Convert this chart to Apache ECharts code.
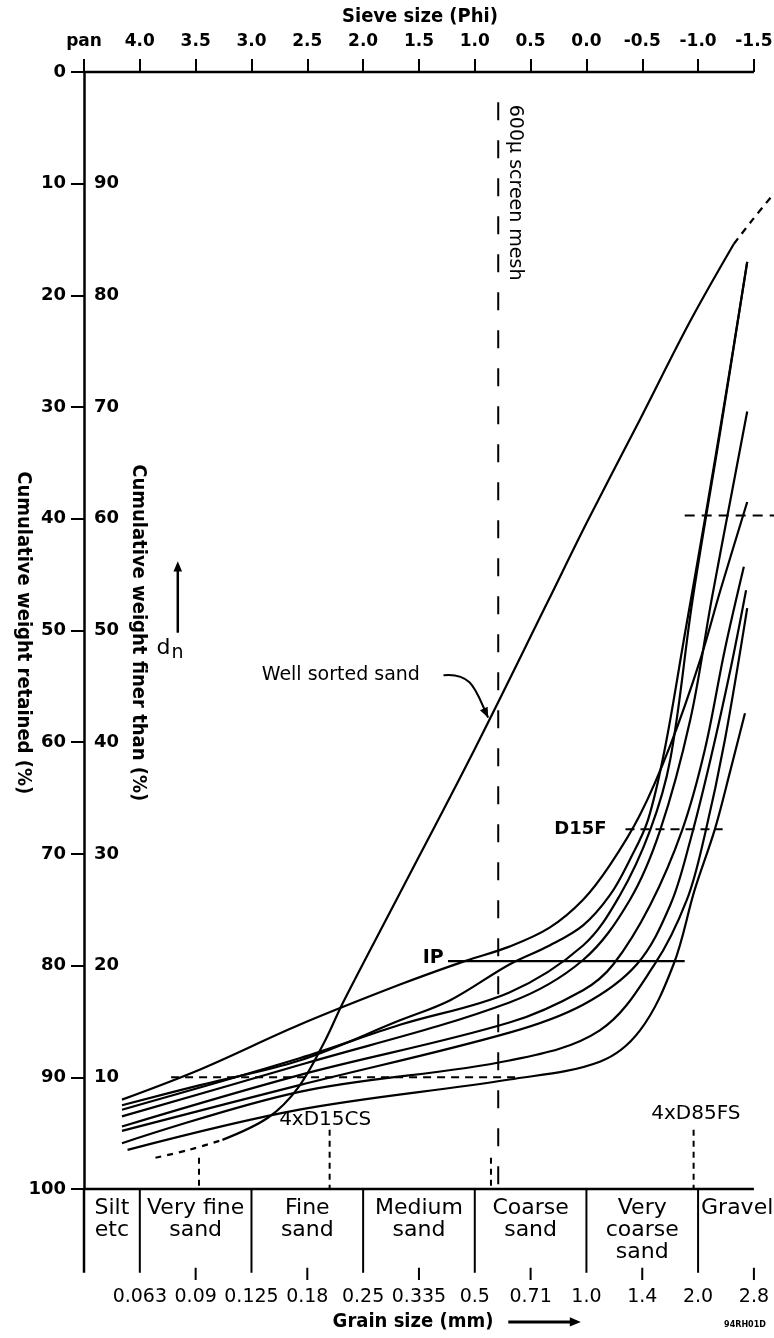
<!DOCTYPE html>
<html>
<head>
<meta charset="utf-8">
<script src="https://cdn.jsdelivr.net/npm/echarts@6/dist/echarts.min.js"></script>
<style>
html, body { margin: 0; padding: 0; background: #fff; }
#chart { width: 774px; height: 1338px; }
</style>
</head>
<body>
<div id="chart"></div>
<script>
// sieve scale (phi) and its labels
var sievePhi = [4.5, 4.0, 3.5, 3.0, 2.5, 2.0, 1.5, 1.0, 0.5, 0.0, -0.5, -1.0, -1.5];
var sieveLabels = ['pan', '4.0', '3.5', '3.0', '2.5', '2.0', '1.5', '1.0', '0.5', '0.0', '-0.5', '-1.0', '-1.5'];
var grainLabels = ['', '0.063', '0.09', '0.125', '0.18', '0.25', '0.335', '0.5', '0.71', '1.0', '1.4', '2.0', '2.8'];

// size classes
var classNames = ['Silt\netc', 'Very fine\nsand', 'Fine\nsand', 'Medium\nsand', 'Coarse\nsand', 'Very\ncoarse\nsand', 'Gravel'];
var classCenters = [4.25, 3.5, 2.5, 1.5, 0.5, -0.5, -1.35];
var classBounds = [4.0, 3.0, 2.0, 1.0, 0.0, -1.0];
var midTicks = [3.5, 2.5, 1.5, 0.5, -0.5, -1.5];

// grading curves, [phi, cumulative % retained]
var wellSorted = [[3.26, 95.6], [2.85, 93.6], [2.58, 90.9], [2.34, 86.7], [2.18, 83.3], [1.67, 73.5], [1.00, 60.6], [0.35, 47.5], [0.00, 40.4], [-0.48, 31.1], [-0.93, 22.3], [-1.32, 15.4]];
var wellSortedFine = [[3.86, 97.2], [3.56, 96.5], [3.26, 95.6]];
var wellSortedCoarse = [[-1.32, 15.4], [-1.49, 13.2], [-1.67, 11.0]];

var filterA = [[4.16, 92.0], [3.46, 89.3], [2.57, 85.3], [1.67, 81.7], [1.09, 79.6], [0.69, 78.3], [0.33, 76.6], [0.03, 74.1], [-0.21, 71.0], [-0.48, 66.5], [-0.75, 60.3], [-1.02, 52.6], [-1.20, 46.4], [-1.44, 38.5]];
var filterB = [[4.16, 92.5], [3.46, 90.7], [2.57, 88.5], [1.67, 84.9], [1.22, 83.1], [0.69, 79.9], [0.33, 78.2], [0.03, 76.4], [-0.21, 73.7], [-0.39, 70.5], [-0.55, 67.0], [-0.70, 60.7], [-0.88, 50.4], [-1.06, 40.1], [-1.24, 29.4], [-1.44, 17.0]];
var filterC = [[4.16, 92.9], [2.57, 88.3], [1.67, 85.3], [0.69, 82.4], [0.03, 78.2], [-0.30, 73.7], [-0.57, 67.9], [-0.75, 61.6], [-0.95, 47.3], [-1.20, 32.1], [-1.44, 17.0]];
var filterD = [[4.16, 93.5], [2.57, 88.9], [0.69, 83.3], [0.03, 79.5], [-0.39, 74.1], [-0.66, 67.9], [-0.93, 58.0], [-1.12, 47.3], [-1.29, 38.3], [-1.44, 30.4]];
var filterE = [[4.16, 94.4], [2.57, 89.8], [0.69, 85.1], [0.03, 82.2], [-0.24, 79.9], [-0.57, 74.6], [-0.86, 67.8], [-1.06, 60.7], [-1.24, 51.7], [-1.41, 44.3]];
var filterF = [[4.16, 94.8], [2.57, 90.7], [0.69, 86.0], [0.03, 83.5], [-0.45, 79.9], [-0.75, 74.6], [-0.93, 68.8], [-1.11, 61.6], [-1.29, 53.5], [-1.43, 46.4]];
var filterG = [[4.16, 95.9], [2.57, 91.3], [0.69, 88.5], [-0.12, 85.8], [-0.61, 79.9], [-0.90, 74.1], [-1.06, 68.3], [-1.24, 59.8], [-1.44, 48.0]];
var filterH = [[4.11, 96.5], [2.57, 92.9], [0.69, 90.2], [-0.12, 88.6], [-0.48, 85.8], [-0.78, 79.9], [-0.97, 73.2], [-1.15, 67.8], [-1.29, 62.5], [-1.42, 57.4]];

// reference levels and sizes
var screenPhi = 0.79;
var tenLine = [3.72, 0.60, 90];
var ipLine = [1.24, -0.88, 79.6];
var d15fLine = [-0.35, -1.22, 67.8];
var d85Line = [-0.88, -1.70, 39.7];
var d15csPhi = 2.30;
var d85fsPhi = -0.96;
var shortMarks = [3.47, 0.855];

var condensed = '"Liberation Sans Narrow", "DejaVu Sans Condensed", sans-serif';
var plain = '"DejaVu Sans", sans-serif';

function phiLabel(list) {
  return function (v) {
    for (var i = 0; i < sievePhi.length; i++) {
      if (Math.abs(sievePhi[i] - v) < 1e-6) return list[i];
    }
    return '';
  };
}

function seg(pts, width, dash) {
  return {
    type: 'line', data: pts, symbol: 'none', clip: false, silent: true,
    lineStyle: { color: '#000', width: width, type: dash || 'solid' }
  };
}

function curve(pts, dash) {
  return {
    type: 'line', data: pts, smooth: 0.35, symbol: 'none', clip: false, silent: true,
    lineStyle: { color: '#000', width: 2.2, type: dash || 'solid' }
  };
}

function note(pt, text, label) {
  var l = { show: true, formatter: text, color: '#000', opacity: 1, fontFamily: plain, fontSize: 18, position: 'inside' };
  for (var k in label) l[k] = label[k];
  return { type: 'scatter', data: [pt], symbolSize: 0, clip: false, silent: true, itemStyle: { opacity: 1 }, label: l };
}

var series = [];
[filterA, filterB, filterC, filterD, filterE, filterF, filterG, filterH].forEach(function (c) {
  series.push(curve(c));
});
series.push(curve(wellSorted));
series.push(curve(wellSortedFine, [6, 6]));
series.push(curve(wellSortedCoarse, [7, 6]));

series.push(seg([[screenPhi, 2.7], [screenPhi, 100]], 2, [18, 20]));
series.push(seg([[tenLine[0], tenLine[2]], [tenLine[1], tenLine[2]]], 2, [8, 6]));
series.push(seg([[ipLine[0], ipLine[2]], [ipLine[1], ipLine[2]]], 2.2));
series.push(seg([[d15fLine[0], d15fLine[2]], [d15fLine[1], d15fLine[2]]], 2, [9, 6]));
series.push(seg([[d85Line[0], d85Line[2]], [d85Line[1], d85Line[2]]], 2, [10, 7]));
series.push(seg([[d15csPhi, 94.7], [d15csPhi, 100]], 2, [6, 5]));
series.push(seg([[d85fsPhi, 94.7], [d85fsPhi, 100]], 2, [6, 5]));
shortMarks.forEach(function (p) { series.push(seg([[p, 97.2], [p, 100]], 2, [6, 5])); });

// frame: sieve line on top, base line, class table under the plot
series.push(seg([[4.5, 0], [-1.5, 0]], 2.5));
series.push(seg([[4.5, 100], [-1.5, 100]], 2.5));
series.push(seg([[4.5, 100], [4.5, 107.5]], 2.5));
classBounds.forEach(function (b) { series.push(seg([[b, 100], [b, 107.5]], 2)); });
midTicks.forEach(function (m) { series.push(seg([[m, 107.05], [m, 108.15]], 2)); });
classNames.forEach(function (n, i) {
  series.push(note([classCenters[i], 100.75], n, { position: 'bottom', distance: 0, fontSize: 22, lineHeight: 22 }));
});

// axis titles on the left
series.push(note([5.046, 50.2], 'Cumulative weight retained (%)', { rotate: -90, fontFamily: condensed, fontWeight: 'bold', fontSize: 20 }));
series.push(note([4.016, 50.2], 'Cumulative weight finer than (%)', { rotate: -90, fontFamily: condensed, fontWeight: 'bold', fontSize: 20 }));

series.push(note([0.64, 10.8], '600\u03bc screen mesh', { rotate: -90, fontSize: 19 }));
series.push(note([2.20, 54.0], 'Well sorted sand', { fontSize: 19 }));
series.push(note([d15csPhi + 0.04, 93.8], '4xD15CS', { fontSize: 20 }));
series.push(note([d85fsPhi - 0.02, 93.3], '4xD85FS', { fontSize: 20 }));
series.push(note([ipLine[0] + 0.02, 79.3], 'IP', { position: 'left', distance: 2, fontWeight: 'bold', fontSize: 19 }));
series.push(note([d15fLine[0] + 0.17, 67.8], 'D15F', { position: 'left', distance: 0, fontWeight: 'bold', fontSize: 18 }));
series.push(note([-1.42, 112.2], '94RH01D', { fontWeight: 'bold', fontSize: 8 }));

var option = {
  backgroundColor: '#fff',
  animation: false,
  textStyle: { fontFamily: plain, color: '#000' },
  grid: { left: 84, right: 0, top: 72, bottom: 149, outerBoundsMode: 'none', containLabel: false },
  xAxis: [
    {
      type: 'value', position: 'top', inverse: true, min: -1.68, max: 4.5,
      name: 'Sieve size (Phi)', nameLocation: 'middle', nameGap: 45,
      nameTextStyle: { fontFamily: condensed, fontWeight: 'bold', fontSize: 20, color: '#000', padding: [0, 18, 0, 0] },
      axisLine: { show: false, onZero: false },
      axisTick: { show: true, length: 13, customValues: sievePhi, lineStyle: { color: '#000', width: 2 } },
      axisLabel: { margin: 22, fontSize: 17, fontWeight: 'bold', color: '#000', customValues: sievePhi, formatter: phiLabel(sieveLabels) },
      splitLine: { show: false }
    },
    {
      type: 'value', position: 'bottom', inverse: true, min: -1.68, max: 4.5,
      name: 'Grain size (mm)', nameLocation: 'middle', nameGap: 123,
      nameTextStyle: { fontFamily: condensed, fontWeight: 'bold', fontSize: 20, color: '#000', padding: [0, 32, 0, 0] },
      axisLine: { show: false, onZero: false }, axisTick: { show: false },
      axisLabel: { margin: 99, fontSize: 19, color: '#000', customValues: sievePhi, formatter: phiLabel(grainLabels) },
      splitLine: { show: false }
    }
  ],
  yAxis: [
    {
      type: 'value', inverse: true, min: 0, max: 100, interval: 10, position: 'left',
      axisLine: { show: true, onZero: false, lineStyle: { color: '#000', width: 2.5 } },
      axisTick: { show: true, length: 13, lineStyle: { color: '#000', width: 2 } },
      axisLabel: { margin: 18, fontSize: 18, fontWeight: 'bold', color: '#000' },
      splitLine: { show: false }
    },
    {
      type: 'value', min: 0, max: 100, interval: 10, position: 'left',
      axisLine: { show: false, onZero: false }, axisTick: { show: false },
      axisLabel: {
        inside: true, margin: 10, fontSize: 18, fontWeight: 'bold', color: '#000',
        formatter: function (v) { return (v === 0 || v === 100) ? '' : v; }
      },
      splitLine: { show: false }
    }
  ],
  series: series
};

var chart = echarts.init(document.getElementById('chart'));
chart.setOption(option);

// arrows placed through the chart's own coordinate system
function px(p) { return chart.convertToPixel({ xAxisIndex: 0, yAxisIndex: 0 }, p); }
function head(tip, from, size) {
  var a = Math.atan2(tip[1] - from[1], tip[0] - from[0]);
  return [tip,
    [tip[0] - size * Math.cos(a - 0.4), tip[1] - size * Math.sin(a - 0.4)],
    [tip[0] - size * Math.cos(a + 0.4), tip[1] - size * Math.sin(a + 0.4)]];
}
var ws0 = px([1.28, 54.0]), ws1 = px([0.88, 57.8]);
var c1 = [ws0[0] + 30, ws0[1] - 3], c2 = [ws1[0] - 12, ws1[1] - 25];
var dn0 = px([3.66, 50.2]), dn1 = px([3.66, 43.8]);
var gs0 = px([0.70, 111.9]), gs1 = px([0.05, 111.9]);
var dText = px([3.73, 51.6]);

chart.setOption({
  graphic: [
    { type: 'bezierCurve', shape: { x1: ws0[0], y1: ws0[1], cpx1: c1[0], cpy1: c1[1], cpx2: c2[0], cpy2: c2[1], x2: ws1[0], y2: ws1[1] }, style: { stroke: '#000', lineWidth: 2, fill: null } },
    { type: 'polygon', shape: { points: head(ws1, c2, 11) }, style: { fill: '#000' } },
    { type: 'line', shape: { x1: dn0[0], y1: dn0[1], x2: dn1[0], y2: dn1[1] + 6 }, style: { stroke: '#000', lineWidth: 2.5 } },
    { type: 'polygon', shape: { points: head(dn1, dn0, 11) }, style: { fill: '#000' } },
    { type: 'text', x: dText[0], y: dText[1], style: { text: '{d|d}{n|n}', rich: { d: { fontSize: 22, fontFamily: plain }, n: { fontSize: 19, fontFamily: plain, padding: [10, 0, 0, 1] } }, align: 'center', verticalAlign: 'middle', fill: '#000' } },
    { type: 'line', shape: { x1: gs0[0], y1: gs0[1], x2: gs1[0] - 6, y2: gs1[1] }, style: { stroke: '#000', lineWidth: 3 } },
    { type: 'polygon', shape: { points: head(gs1, gs0, 12) }, style: { fill: '#000' } }
  ]
});
</script>
</body>
</html>
